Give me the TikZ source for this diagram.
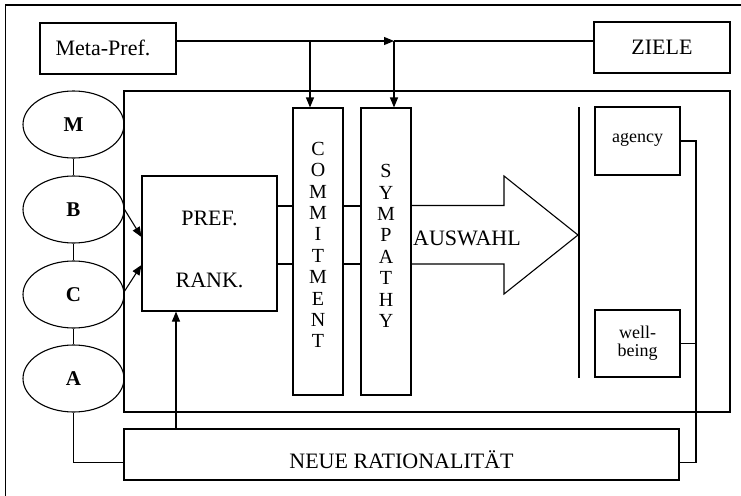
\documentclass[tikz,border=0pt]{standalone}
\usepackage{fontspec}
\setmainfont{Liberation Serif}
\usetikzlibrary{arrows.meta,shapes.geometric}
\tikzset{
  ln/.style={line width=1.1pt, line join=miter},
  arr/.style={ln, -{Triangle[length=10pt,width=8pt]}},
  boxn/.style={draw, ln, rectangle, inner sep=0pt},
  ell/.style={draw, ln, ellipse, inner sep=0pt, minimum width=101pt, minimum height=67pt, font=\bfseries\fontsize{21}{24}\selectfont},
  txt/.style={inner sep=0pt, font=\fontsize{22}{26}\selectfont},
  vtxt/.style={inner sep=0pt, align=center, font=\fontsize{20}{21.4}\selectfont},
  stxt/.style={inner sep=0pt, align=center, font=\fontsize{18}{18}\selectfont}
}
\begin{document}
\begin{tikzpicture}[x=1pt,y=-1pt]
\useasboundingbox (0,0) rectangle (741,495);
% outer frame
\draw[ln] (5.5,496) -- (5.5,5) -- (742,5);
% top boxes
\node[boxn, minimum width=136pt, minimum height=51pt] (meta) at (108,48.5) {};
\node[txt] (metat) at (103,48) {Meta-Pref.};
\node[boxn, minimum width=136pt, minimum height=51pt] (ziele) at (662,47.5) {};
\node[txt] (zielet) at (662,47.5) {ZIELE};
% inner frame
\node[boxn, minimum width=606pt, minimum height=321pt] (inner) at (427,251.5) {};
% ellipses
\node[ell] (M) at (73.5,124.5) {M};
\node[ell] (B) at (73.5,209.5) {B};
\node[ell] (C) at (73.5,294.5) {C};
\node[ell] (A) at (73.5,378.5) {A};
\draw[ln] (M.south) -- (B.north);
\draw[ln] (B.south) -- (C.north);
\draw[ln] (C.south) -- (A.north);
% pref rank
\node[boxn, minimum width=135pt, minimum height=135pt] (pref) at (209.5,243.5) {};
\node[txt] (preft) at (209.5,218) {PREF.};
\node[txt] (rankt) at (209.5,280) {RANK.};
\draw[arr] (B.east) -- (pref.west |- 0,237);
\draw[arr] (124,292) -- (pref.west |- 0,265);
% commitment & sympathy
\node[boxn, minimum width=50pt, minimum height=287pt] (commit) at (318,251.5) {};
\node[vtxt] (committ) at (318,245) {C\\O\\M\\M\\I\\T\\M\\E\\N\\T};
\node[boxn, minimum width=50pt, minimum height=287pt] (symp) at (386,251.5) {};
\node[vtxt] (sympt) at (386,246) {S\\Y\\M\\P\\A\\T\\H\\Y};
\draw[ln] (pref.east |- 0,206) -- (commit.west |- 0,206);
\draw[ln] (pref.east |- 0,264) -- (commit.west |- 0,264);
\draw[ln] (commit.east |- 0,206) -- (symp.west |- 0,206);
\draw[ln] (commit.east |- 0,264) -- (symp.west |- 0,264);
% top arrows
\coordinate (j1) at (310,41);
\coordinate (j2) at (394,41);
\draw[arr] (meta.east |- j1) -- (j2);
\draw[ln] (j2) -- (ziele.west |- j2);
\draw[arr] (j1) -- (commit.north -| j1);
\draw[arr] (j2) -- (symp.north -| j2);
% big arrow
\draw[ln] (symp.east |- 0,205.5) -- (504,205.5) -- (504,176) -- (578,235) -- (504,294) -- (504,264) -- (symp.east |- 0,264);
\node[txt, anchor=west] (ausw) at (413,238) {AUSWAHL};
% separator
\coordinate (sepT) at (579,107);
\coordinate (sepB) at (579,378);
\draw[ln] (sepT) -- (sepB);
% agency, well-being
\node[boxn, minimum width=85pt, minimum height=68pt] (agency) at (637.5,141) {};
\node[stxt] (agencyt) at (637.5,140) {agency};
\node[boxn, minimum width=85pt, minimum height=67pt] (well) at (637.5,343.5) {};
\node[stxt] (wellt) at (637.5,343) {well-\\being};
% neue rationalitaet
\node[boxn, minimum width=555pt, minimum height=51pt] (neue) at (401.5,454.5) {};
\node[txt] (neuet) at (401.5,460) {NEUE RATIONALITÄT};
% connectors to neue
\coordinate (rj) at (696,462.5);
\coordinate (lj) at (73.5,462.5);
\draw[ln] (agency.east) -- (rj |- agency.east) -- (rj) -- (neue.east |- rj);
\draw[ln] (well.east) -- (rj |- well.east);
\draw[ln] (A.south) -- (lj) -- (neue.west |- lj);
\coordinate (ua) at (176,0);
\draw[arr] (neue.north -| ua) -- (pref.south -| ua);
\end{tikzpicture}
\end{document}
